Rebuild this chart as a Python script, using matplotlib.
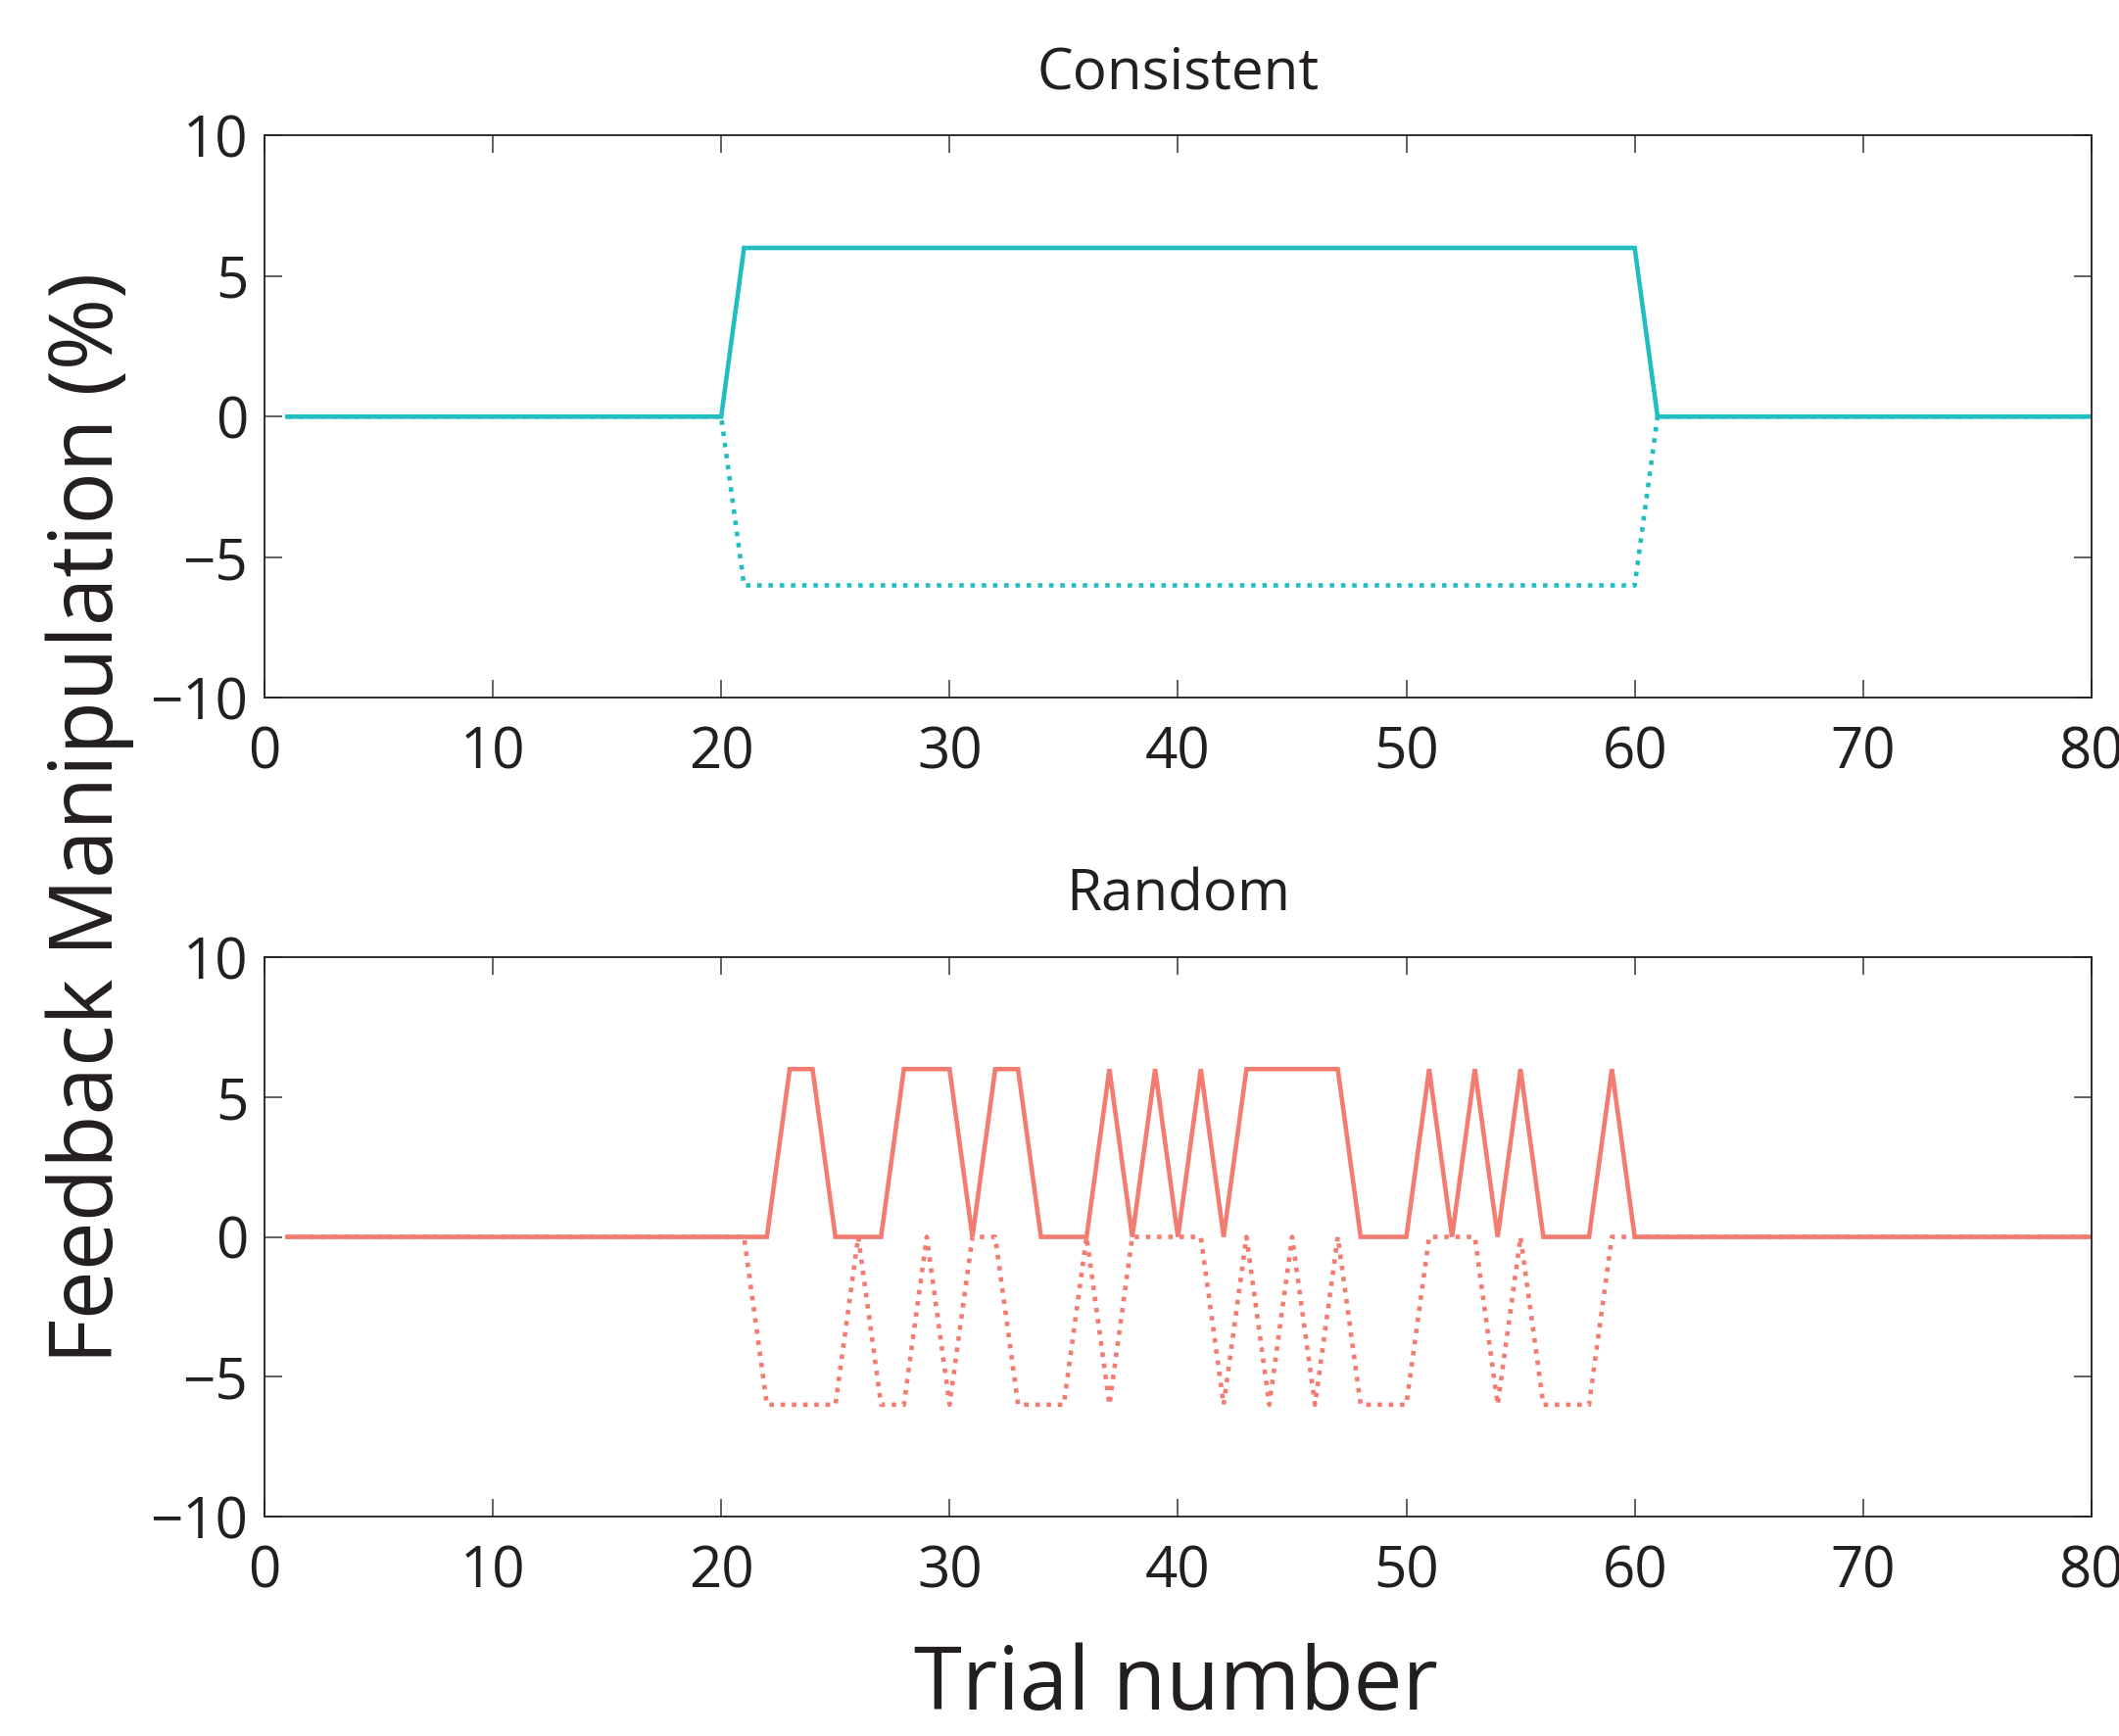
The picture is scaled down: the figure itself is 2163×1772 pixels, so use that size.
import numpy as np
import matplotlib
matplotlib.use("Agg")
import matplotlib.pyplot as plt

plt.rcParams['font.family'] = ['Open Sans', 'DejaVu Sans']

trials = np.arange(1, 81)

# consistent schedule: +6 / -6 for trials 21-60
consistent_pos = [0] * 20 + [6] * 40 + [0] * 20
consistent_neg = [0] * 20 + [-6] * 40 + [0] * 20

# random schedule, trials 21-60
random_pos_mid = [0, 0, 6, 6, 0, 0, 0, 6, 6, 6,
                  0, 6, 6, 0, 0, 0, 6, 0, 6, 0,
                  6, 0, 6, 6, 6, 6, 6, 0, 0, 0,
                  6, 0, 6, 0, 6, 0, 0, 0, 6, 0]
random_neg_mid = [0, -6, -6, -6, -6, 0, -6, -6, 0, -6,
                  0, 0, -6, -6, -6, 0, -6, 0, 0, 0,
                  0, -6, 0, -6, 0, -6, 0, -6, -6, -6,
                  0, 0, 0, -6, 0, -6, -6, -6, 0, 0]
random_pos = [0] * 20 + random_pos_mid + [0] * 20
random_neg = [0] * 20 + random_neg_mid + [0] * 20

teal = '#21BEC1'
salmon = '#F37B70'
ink = '#231F20'

fig = plt.figure(figsize=(21.63, 17.72), dpi=100)
ax1 = fig.add_axes([0.1248, 0.598, 0.8622, 0.324])
ax2 = fig.add_axes([0.1248, 0.1264, 0.8622, 0.3222])

dot = (0, (1, 1.5))
for ax, pos, neg, col, title in [(ax1, consistent_pos, consistent_neg, teal, 'Consistent'),
                                 (ax2, random_pos, random_neg, salmon, 'Random')]:
    ax.plot(trials, neg, color=col, lw=3.3, linestyle=dot, dash_capstyle='butt')
    ax.plot(trials, pos, color=col, lw=3.3, solid_joinstyle='miter')
    ax.set_xlim(0, 80)
    ax.set_ylim(-10, 10)
    ax.set_xticks(np.arange(0, 81, 10))
    ax.set_yticks([-10, -5, 0, 5, 10])
    ax.tick_params(direction='in', length=13, width=1.3, color='#555555',
                   labelsize=42, labelcolor=ink, top=True, right=True)
    ax.tick_params(axis='x', pad=20)
    ax.tick_params(axis='y', pad=12)
    for s in ax.spines.values():
        s.set_linewidth(1.3)
        s.set_color(ink)
    ax.set_title(title, fontsize=42, pad=34, color=ink)

fig.text(92 / 2163, 1 - 835 / 1772, 'Feedback Manipulation (%)', rotation=90,
         ha='center', va='center', fontsize=64, color=ink)
fig.text(1200 / 2163, 1 - 1722 / 1772, 'Trial number', ha='center', va='center',
         fontsize=64, color=ink)

fig.savefig('out.png', dpi=100)
